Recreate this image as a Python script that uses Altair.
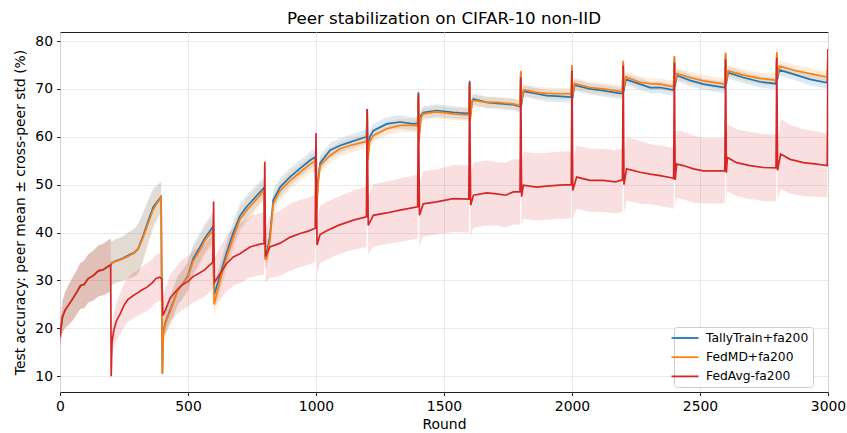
import altair as alt
import pandas as pd

# ---- data ----
series_names = ["TallyTrain+fa200", "FedMD+fa200", "FedAvg-fa200"]
series_colors = ["#1f77b4", "#ff7f0e", "#d62728"]

# common warm-up phase (rounds 0-198), all peers identical
early_rounds = [0, 5, 10, 20, 35, 50, 65, 80, 95, 110, 130, 150, 170, 190, 198]
early_mean = [18.2, 20.5, 22.5, 23.8, 25.0, 26.2, 27.5, 28.9, 29.2, 30.4, 31.0, 32.0, 32.3, 33.0, 33.2]
early_std = [2.0, 2.8, 3.2, 3.8, 4.2, 4.5, 4.6, 4.8, 5.0, 5.0, 5.2, 5.3, 5.4, 5.5, 5.5]

# FedAvg-fa200
fedavg_rounds = [
    200, 203, 210, 220, 235, 250, 265, 285, 300, 320, 340, 360, 375, 390, 398,
    402, 410, 430, 450, 475, 500, 520, 540, 565, 580, 597,
    600, 603, 625, 650, 677, 703, 742, 781, 797,
    800, 803, 820, 860, 898, 938, 970, 997,
    1000, 1004, 1016, 1042, 1087, 1146, 1197,
    1200, 1204, 1224, 1276, 1328, 1397,
    1400, 1404, 1419, 1471, 1536, 1597,
    1600, 1604, 1615, 1667, 1706, 1740, 1771, 1797,
    1800, 1803, 1810, 1862, 1901, 1950, 1997,
    2000, 2003, 2018, 2070, 2122, 2170, 2197,
    2200, 2203, 2213, 2266, 2305, 2344, 2383, 2397,
    2400, 2403, 2409, 2435, 2474, 2513, 2565, 2597,
    2600, 2603, 2607, 2643, 2695, 2747, 2797,
    2800, 2803, 2815, 2852, 2904, 2956, 2997,
    3000]
fedavg_mean = [
    10.0, 17.0, 19.5, 21.5, 23.0, 24.8, 26.0, 26.8, 27.3, 28.0, 28.6, 29.5, 30.4, 30.7, 30.3,
    22.7, 23.6, 26.3, 27.6, 29.0, 29.8, 30.8, 31.4, 32.2, 33.0, 33.8,
    46.5, 29.6, 31.4, 33.5, 34.9, 35.6, 37.0, 37.6, 37.7,
    54.8, 35.0, 37.0, 37.8, 39.0, 39.8, 40.3, 40.9,
    60.8, 37.4, 39.6, 40.4, 41.5, 42.6, 43.3,
    65.8, 41.5, 43.6, 44.1, 44.7, 45.4,
    69.0, 43.6, 46.0, 46.4, 47.1, 47.0,
    71.4, 45.7, 47.8, 48.3, 48.1, 47.8, 48.5, 48.5,
    72.4, 47.5, 49.9, 49.5, 49.7, 49.9, 50.0,
    73.8, 48.8, 51.6, 50.9, 50.9, 50.6, 51.0,
    74.9, 50.0, 53.3, 52.6, 52.2, 51.9, 51.5, 51.3,
    75.5, 51.0, 54.3, 54.0, 53.3, 52.9, 52.9, 52.9,
    76.2, 52.5, 55.7, 54.6, 54.0, 53.6, 53.5,
    76.5, 53.0, 56.4, 55.3, 54.6, 54.3, 54.0,
    78.3]
fedavg_std = [
    0.5, 3.0, 3.5, 4.0, 4.3, 4.5, 4.6, 4.8, 4.8, 4.9, 5.0, 5.0, 5.0, 5.0, 5.0,
    4.0, 4.5, 4.8, 5.0, 5.2, 5.3, 5.4, 5.5, 5.6, 5.6, 5.6,
    3.0, 5.0, 5.5, 5.8, 6.0, 6.2, 6.4, 6.5, 6.5,
    3.0, 5.5, 6.5, 6.8, 7.0, 7.0, 7.0, 7.0,
    3.0, 6.0, 6.0, 6.0, 6.0, 6.2, 6.3,
    3.0, 6.0, 6.5, 6.5, 6.6, 6.7,
    3.0, 6.5, 6.8, 6.8, 7.0, 7.0,
    3.0, 6.5, 6.8, 6.8, 6.6, 6.8, 6.8, 6.8,
    3.0, 6.0, 7.0, 7.0, 7.0, 7.0, 7.0,
    3.0, 6.0, 6.6, 6.6, 6.6, 6.6, 6.6,
    3.0, 6.0, 6.6, 6.6, 6.3, 6.3, 6.3, 6.3,
    3.0, 6.0, 7.0, 7.1, 7.0, 6.8, 6.8, 6.8,
    3.0, 6.0, 7.0, 7.0, 7.0, 7.0, 7.0,
    3.0, 6.0, 7.3, 7.2, 7.0, 6.8, 6.6,
    2.0]

# rounds shared by TallyTrain and FedMD after warm-up
peer_rounds = [
    200, 215, 240, 265, 292, 305, 325, 345, 364, 380, 395,
    400, 403, 410, 430, 460, 480, 500, 520, 545, 565, 597,
    602, 625, 651, 677, 703, 729, 768, 797,
    802, 807, 820, 833, 860, 898, 938, 977, 997,
    1002, 1008, 1016, 1030, 1055, 1094, 1133, 1185, 1197,
    1200, 1202, 1210, 1224, 1276, 1328, 1380, 1397,
    1400, 1402, 1410, 1419, 1471, 1536, 1588, 1597,
    1600, 1602, 1610, 1615, 1667, 1706, 1771, 1797,
    1800, 1802, 1810, 1823, 1862, 1901, 1940, 1997,
    2000, 2002, 2010, 2018, 2070, 2122, 2187, 2197,
    2200, 2202, 2210, 2266, 2305, 2344, 2383, 2397,
    2400, 2402, 2410, 2461, 2513, 2585, 2597,
    2600, 2602, 2610, 2669, 2734, 2797,
    2800, 2802, 2810, 2865, 2930, 2997,
    3000]
tally_mean = [
    33.6, 34.0, 34.5, 35.2, 35.9, 36.6, 39.4, 42.5, 45.3, 46.5, 47.5,
    10.5, 18.9, 21.0, 23.8, 27.9, 29.3, 31.0, 34.5, 36.8, 38.8, 41.2,
    27.0, 31.0, 35.8, 40.0, 43.5, 45.4, 47.7, 49.4,
    35.0, 35.5, 39.2, 46.8, 49.5, 51.6, 53.4, 55.1, 55.8,
    45.0, 51.0, 54.5, 55.5, 57.2, 58.2, 58.9, 59.8, 60.0,
    65.8, 56.0, 60.0, 61.3, 62.7, 63.1, 62.7, 62.8,
    69.3, 60.0, 64.5, 65.1, 65.5, 65.1, 64.9, 65.0,
    71.7, 64.0, 67.5, 67.9, 67.2, 67.0, 66.7, 66.3,
    73.5, 66.5, 69.5, 69.4, 69.0, 68.6, 68.5, 68.3,
    74.6, 68.0, 70.8, 70.7, 70.0, 69.65, 69.1, 69.1,
    75.5, 69.5, 72.0, 71.0, 70.3, 70.3, 69.9, 69.8,
    76.5, 70.5, 72.8, 71.8, 71.0, 70.4, 70.3,
    77.2, 71.0, 73.4, 72.4, 71.5, 71.1,
    77.3, 72.0, 74.0, 73.1, 72.0, 71.3,
    78.0]
tally_std = [
    4.5, 4.6, 4.6, 4.8, 5.0, 5.2, 5.0, 4.5, 4.0, 3.5, 3.2,
    0.5, 2.0, 2.5, 3.0, 3.0, 3.0, 3.0, 3.0, 3.0, 3.0, 3.0,
    2.5, 2.5, 2.5, 2.5, 2.5, 2.5, 2.3, 2.2,
    2.0, 2.0, 2.0, 2.0, 2.0, 1.8, 1.8, 1.8, 1.8,
    1.8, 1.8, 1.6, 1.6, 1.6, 1.5, 1.5, 1.5, 1.5,
    1.2, 1.5, 1.5, 1.4, 1.4, 1.4, 1.4, 1.4,
    1.0, 1.4, 1.3, 1.3, 1.3, 1.3, 1.3, 1.3,
    1.0, 1.3, 1.2, 1.2, 1.2, 1.2, 1.2, 1.2,
    1.0, 1.2, 1.2, 1.2, 1.2, 1.2, 1.2, 1.2,
    1.0, 1.2, 1.2, 1.2, 1.2, 1.2, 1.2, 1.2,
    1.0, 1.2, 1.2, 1.2, 1.2, 1.2, 1.2, 1.2,
    1.0, 1.2, 1.2, 1.2, 1.2, 1.2, 1.2,
    1.0, 1.2, 1.2, 1.2, 1.2, 1.2,
    1.0, 1.2, 1.2, 1.2, 1.2, 1.2,
    1.0]
fedmd_mean = [
    33.5, 33.9, 34.4, 35.0, 35.8, 36.5, 39.0, 42.0, 44.8, 46.2, 47.3,
    10.5, 18.5, 20.8, 23.5, 27.9, 29.3, 30.7, 34.0, 36.2, 38.3, 40.4,
    25.0, 30.0, 34.9, 39.0, 42.8, 44.6, 47.0, 48.75,
    34.5, 34.5, 38.3, 46.0, 48.75, 50.8, 52.6, 54.3, 55.0,
    44.0, 50.0, 54.0, 54.8, 56.1, 57.5, 58.2, 58.9, 59.0,
    64.5, 55.1, 59.0, 60.3, 61.7, 62.4, 62.4, 62.3,
    68.5, 59.0, 64.0, 64.8, 65.2, 64.8, 64.6, 64.7,
    71.0, 63.4, 67.3, 67.6, 67.2, 67.2, 66.9, 66.5,
    73.8, 67.0, 69.8, 69.7, 69.3, 69.1, 69.0, 69.0,
    75.0, 68.5, 71.2, 71.0, 70.3, 70.0, 69.5, 69.4,
    75.9, 70.0, 72.5, 71.4, 71.1, 71.0, 70.6, 70.5,
    76.9, 71.0, 73.2, 72.4, 71.7, 71.1, 71.0,
    77.6, 71.5, 73.8, 72.9, 72.2, 71.8,
    77.7, 72.5, 74.8, 73.9, 73.2, 72.5,
    78.3]
fedmd_std = [
    4.5, 4.6, 4.6, 4.8, 5.0, 5.2, 5.0, 4.5, 4.0, 3.5, 3.2,
    0.5, 2.2, 2.6, 3.0, 3.0, 3.0, 3.0, 3.0, 3.0, 3.0, 3.0,
    2.6, 2.6, 2.5, 2.5, 2.5, 2.5, 2.3, 2.2,
    2.0, 2.0, 2.0, 2.0, 2.0, 1.8, 1.8, 1.8, 1.8,
    1.8, 1.8, 1.6, 1.6, 1.6, 1.5, 1.5, 1.5, 1.5,
    1.2, 1.5, 1.5, 1.4, 1.4, 1.4, 1.4, 1.4,
    1.0, 1.4, 1.3, 1.3, 1.3, 1.3, 1.3, 1.3,
    1.0, 1.3, 1.2, 1.2, 1.2, 1.2, 1.2, 1.2,
    1.0, 1.2, 1.2, 1.2, 1.2, 1.2, 1.2, 1.2,
    1.0, 1.2, 1.2, 1.2, 1.2, 1.2, 1.2, 1.2,
    1.0, 1.2, 1.2, 1.2, 1.2, 1.2, 1.2, 1.2,
    1.0, 1.2, 1.2, 1.2, 1.2, 1.2, 1.2,
    1.0, 1.2, 1.2, 1.2, 1.2, 1.2,
    1.0, 1.2, 1.2, 1.2, 1.2, 1.2,
    1.0]

x_ticks = [0, 500, 1000, 1500, 2000, 2500, 3000]
y_ticks = [10, 20, 30, 40, 50, 60, 70, 80]


def build(name, rounds, mean, std):
    r = early_rounds + rounds
    m = early_mean + mean
    s = early_std + std
    return pd.DataFrame({
        "series": name,
        "round": r,
        "mean": m,
        "lo": [a - b for a, b in zip(m, s)],
        "hi": [a + b for a, b in zip(m, s)],
    })


frames = [
    build(series_names[0], peer_rounds, tally_mean, tally_std),
    build(series_names[1], peer_rounds, fedmd_mean, fedmd_std),
    build(series_names[2], fedavg_rounds, fedavg_mean, fedavg_std),
]

FONT = "DejaVu Sans"
x_enc = alt.X("round:Q", scale=alt.Scale(domain=[0, 3000], nice=False),
              axis=alt.Axis(values=x_ticks, title="Round", format="d", labelFlush=False))
y_axis = alt.Axis(values=y_ticks, title="Test accuracy: peer mean \u00b1 cross-peer std (%)")
y_scale = alt.Scale(domain=[6.7, 81.9], nice=False, zero=False)

color_enc = alt.Color(
    "series:N",
    scale=alt.Scale(domain=series_names, range=series_colors),
    legend=alt.Legend(
        title=None, orient="none", legendX=614, legendY=295,
        symbolType="M-2.25,0H2.25", symbolSize=144, symbolStrokeWidth=1.8,
        labelFont=FONT, labelFontSize=12.3, labelColor="black",
        padding=4, strokeColor="#cccccc", fillColor="white",
        cornerRadius=3, rowPadding=5.2, labelOffset=14,
    ),
)

layers = []
for df, col in zip(frames, series_colors):
    layers.append(
        alt.Chart(df).mark_area(color=col, opacity=0.15, clip=True).encode(
            x=x_enc,
            y=alt.Y("lo:Q", scale=y_scale, axis=y_axis),
            y2="hi:Q",
        )
    )
for df in frames:
    layers.append(
        alt.Chart(df).mark_line(strokeWidth=1.7, clip=True).encode(
            x=x_enc,
            y=alt.Y("mean:Q", scale=y_scale, axis=y_axis),
            color=color_enc,
        )
    )

chart = alt.layer(*layers).properties(
    width=768, height=360,
    title=alt.TitleParams("Peer stabilization on CIFAR-10 non-IID", font=FONT,
                          fontSize=16.7, fontWeight="normal", color="black",
                          anchor="middle", frame="group", offset=4),
    autosize=alt.AutoSizeParams(type="none"),
    padding={"left": 60, "top": 32, "right": 19, "bottom": 41},
).configure_view(
    stroke="#222222", strokeWidth=1,
).configure_axis(
    domain=False, grid=True, gridColor="#e8e8e8", gridWidth=0.9,
    tickColor="#222222", tickSize=3.5, tickWidth=1,
    labelFont=FONT, labelFontSize=13.9, labelColor="black", labelPadding=4,
    titleFont=FONT, titleFontSize=13.9, titleFontWeight="normal", titleColor="black",
).configure_axisY(titlePadding=7).configure_axisX(titlePadding=4)

chart.save("out.html", embed_options={"renderer": "svg", "actions": False})
